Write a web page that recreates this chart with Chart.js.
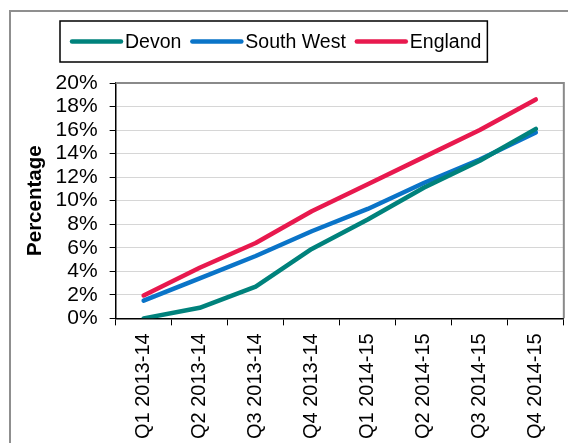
<!DOCTYPE html>
<html>
<head>
<meta charset="utf-8">
<script src="https://cdn.jsdelivr.net/npm/chart.js@4.4.0/dist/chart.umd.min.js"></script>
<style>
  html, body { margin: 0; padding: 0; background: #fff; overflow: hidden; }
  #frame { position: absolute; left: 9px; top: 10px; width: 620px; height: 500px;
           border-left: 2px solid #8f8f8f; border-top: 2px solid #8f8f8f; box-sizing: border-box; }
  #wrap { position: absolute; left: 0; top: 0; width: 568px; height: 451px; }
</style>
</head>
<body>
<div id="frame"></div>
<div id="wrap"><canvas id="c" width="568" height="451"></canvas></div>
<script>
const categories = ["Q1 2013-14","Q2 2013-14","Q3 2013-14","Q4 2013-14","Q1 2014-15","Q2 2014-15","Q3 2014-15","Q4 2014-15"];
const devon      = [0.0, 0.9, 2.7, 5.9, 8.4, 11.1, 13.4, 16.1];
const southWest  = [1.5, 3.4, 5.3, 7.4, 9.3, 11.5, 13.5, 15.8];
const england    = [1.95, 4.3, 6.4, 9.1, 11.4, 13.7, 16.0, 18.6];
const yTicks     = [0, 2, 4, 6, 8, 10, 12, 14, 16, 18, 20];
const seriesNames  = ["Devon", "South West", "England"];
const seriesColors = ["#00827c", "#0a74c8", "#e8194e"];

const FONT = "'Liberation Sans', Arial, sans-serif";

const boxLegend = {
  id: 'boxLegend',
  afterDraw(chart) {
    const ctx = chart.ctx;
    const ds = chart.data.datasets;
    ctx.save();
    ctx.font = "19.5px " + FONT;
    ctx.textBaseline = 'middle';
    const left = 60, top = 21, h = 41, lineLen = 49, gapLine = 4, gapItem = 11, padL = 12, padR = 6;
    let x = left + padL;
    const cy = top + h / 2;
    ds.forEach((d) => {
      ctx.strokeStyle = d.borderColor;
      ctx.lineWidth = 4.5;
      ctx.lineCap = 'round';
      ctx.beginPath();
      ctx.moveTo(x, cy);
      ctx.lineTo(x + lineLen, cy);
      ctx.stroke();
      x += lineLen + gapLine;
      ctx.fillStyle = '#000';
      ctx.fillText(d.label, x, cy + 1);
      x += ctx.measureText(d.label).width + gapItem;
    });
    const right = x - gapItem + padR;
    ctx.strokeStyle = '#000';
    ctx.lineWidth = 1.5;
    ctx.strokeRect(left, top, right - left, h);
    // plot-area top/right border
    const a = chart.chartArea;
    ctx.strokeStyle = '#8a8a8a';
    ctx.lineWidth = 2;
    ctx.lineCap = 'butt';
    ctx.beginPath();
    ctx.moveTo(a.left, a.top);
    ctx.lineTo(a.right, a.top);
    ctx.lineTo(a.right, a.bottom);
    ctx.stroke();
    ctx.restore();
  }
};

new Chart(document.getElementById('c'), {
  type: 'line',
  data: {
    labels: categories,
    datasets: [devon, southWest, england].map((vals, i) => ({
      label: seriesNames[i],
      data: vals,
      borderColor: seriesColors[i],
      backgroundColor: seriesColors[i],
      borderWidth: 4.5,
      pointRadius: 0,
      tension: 0,
      borderCapStyle: 'round',
      borderJoinStyle: 'round',
      fill: false
    }))
  },
  options: {
    responsive: false,
    animation: false,
    layout: { padding: { top: 83, right: 3, left: 23, bottom: 4 } },
    plugins: {
      legend: { display: false },
      title: { display: false },
      tooltip: { enabled: false }
    },
    scales: {
      x: {
        offset: true,
        grid: { offset: true, drawOnChartArea: false, drawTicks: true, tickLength: 7, tickColor: '#000', tickWidth: 1 },
        border: { color: '#000', width: 1.5 },
        ticks: { maxRotation: 90, minRotation: 90, padding: 8, color: '#000', font: { family: FONT, size: 20 }, autoSkip: false }
      },
      y: {
        min: 0, max: 20,
        afterBuildTicks: (axis) => { axis.ticks = yTicks.map(v => ({ value: v })); },
        grid: {
          color: (c) => (c.tick && c.tick.value === 20) ? '#8a8a8a' : '#d6d6d6',
          lineWidth: 1,
          drawTicks: true, tickLength: 6, tickColor: '#000', tickWidth: 1
        },
        border: { color: '#000', width: 1.5 },
        ticks: { autoSkip: false, padding: 12, color: '#000', font: { family: FONT, size: 21 }, callback: (v) => v + '%' },
        title: { display: true, text: 'Percentage', color: '#000', font: { family: FONT, size: 20.5, weight: 'bold' }, padding: { top: 0, bottom: -4 } }
      }
    }
  },
  plugins: [boxLegend]
});
</script>
</body>
</html>
